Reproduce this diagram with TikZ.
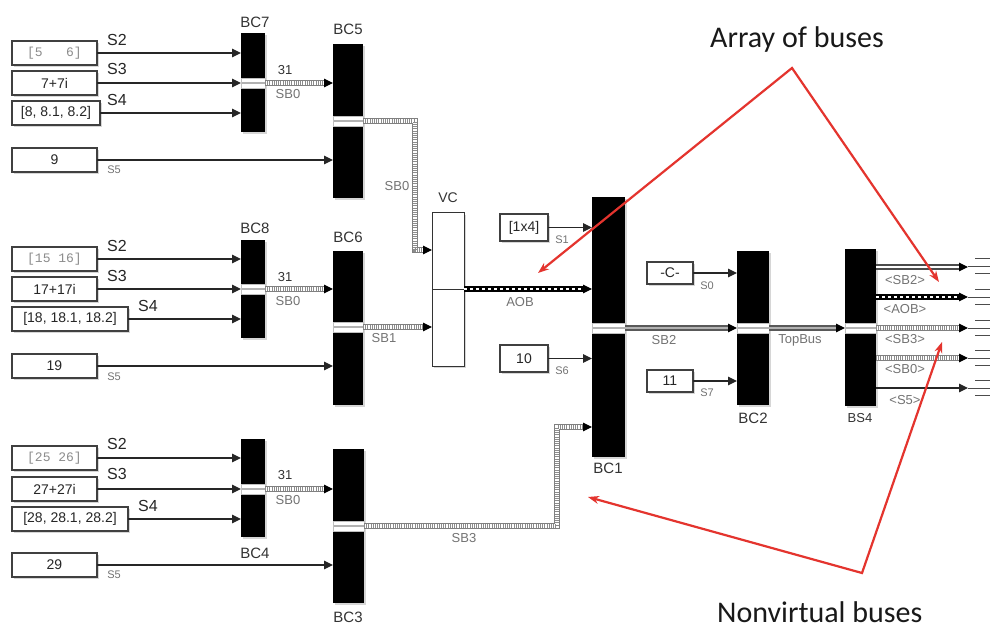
\documentclass[tikz,border=0pt]{standalone}
\usepackage{fontspec}
\setmainfont{Liberation Sans}
\newfontfamily\anfont{Carlito}
\newfontfamily\cmono{Liberation Mono}
\usetikzlibrary{arrows.meta,shadows,calc}
\definecolor{ann}{RGB}{228,52,46}
\tikzset{
  tipst/.style={draw=black, line width=1pt, -{Triangle[length=9pt,width=8.5pt]}},
  sig/.style={draw=black!85, line width=1.1pt, -{Triangle[length=9pt,width=8.5pt]}},
  shad/.style={drop shadow={shadow xshift=1.6pt, shadow yshift=-1.6pt, fill=gray!70, opacity=0.45}},
  blk/.style={fill=black, inner sep=0pt, outer sep=0pt, anchor=north west, shad},
  cst/.style={draw=black!75, line width=1.2pt, fill=white, inner sep=0pt, outer sep=0pt, anchor=north west, font=\fontsize{14}{14}\selectfont, text=black!85, shad},
  mcst/.style={cst, font=\cmono\fontsize{13}{13}\selectfont, text=black!45},
  lbl/.style={font=\fontsize{16}{16}\selectfont, text=black!85, inner sep=0pt},
  blbl/.style={font=\fontsize{15}{15}\selectfont, text=black!80, inner sep=0pt},
  sml/.style={font=\fontsize{11}{11}\selectfont, text=black!55, inner sep=0pt},
  bl/.style={sml, font=\fontsize{13}{13}\selectfont},
  num/.style={font=\fontsize{13}{13}\selectfont, text=black!80, inner sep=0pt},
  vbus/.style={draw=white, line width=3.2pt, preaction={draw=black!50, line width=6pt}, postaction={draw=black!45, line width=3.2pt, dash pattern=on 0.9pt off 1.3pt}},
  aobbus/.style={draw=white, line width=2.8pt, dash pattern=on 3pt off 3pt, preaction={draw=black, line width=6pt}},
  nbus/.style={draw=gray!60, line width=2pt, preaction={draw=black!65, line width=6pt}},
  nbusw/.style={draw=white, line width=1.2pt, preaction={draw=black!70, line width=5.5pt}},
  term/.style={draw=black!70, line width=1pt},
  annline/.style={draw=ann, line width=2.2pt, line join=miter},
  antext/.style={font=\anfont\fontsize{30}{30}\selectfont, text=black!90, inner sep=0pt},
}
\newcommand{\busbar}[2]{%
  \fill[white] ($(#1.west |- #2)+(0,-5)$) rectangle ($(#1.east |- #2)+(0,5)$);
  \draw[gray!60, line width=2pt] (#1.west |- #2) -- (#1.east |- #2);
  \draw[gray!50, line width=0.5pt] ($(#1.west |- #2)+(0,-5)$) rectangle ($(#1.east |- #2)+(0,5)$);}
\begin{document}
\begin{tikzpicture}[x=1pt,y=-1pt]
\useasboundingbox[fill=white] (0,0) rectangle (990,628);

% ---------- blocks ----------
\node[blk, minimum width=24pt, minimum height=99pt] (bc7) at (241,33) {};
\node[blk, minimum width=30pt, minimum height=154pt] (bc5) at (333,44) {};
\node[blk, minimum width=24pt, minimum height=98pt] (bc8) at (241,240) {};
\node[blk, minimum width=30pt, minimum height=154pt] (bc6) at (333,251) {};
\node[blk, minimum width=24pt, minimum height=98pt] (bc4) at (241,439) {};
\node[blk, minimum width=31pt, minimum height=154pt] (bc3) at (333,449) {};
\node[draw=black!80, line width=1pt, fill=white, inner sep=0pt, outer sep=0pt, anchor=north west, minimum width=32pt, minimum height=153pt, shad] (vc) at (432,213) {};
\node[blk, minimum width=33pt, minimum height=260pt] (bc1) at (592,197) {};
\node[blk, minimum width=32pt, minimum height=154pt] (bc2) at (737,251) {};
\node[blk, minimum width=31pt, minimum height=157pt] (bs4) at (845,249) {};

% block labels
\node[blbl] (lbc7) at (255,22) {BC7};
\node[blbl] (lbc5) at (348,29) {BC5};
\node[blbl] (lbc8) at (255,228) {BC8};
\node[blbl] (lbc6) at (348,237) {BC6};
\node[blbl] (lbc4) at (255,553) {BC4};
\node[blbl] (lbc3) at (348,617) {BC3};
\node[num, font=\fontsize{14}{14}\selectfont] (lvc) at (448,198) {VC};
\node[blbl] (lbc1) at (608,468) {BC1};
\node[blbl] (lbc2) at (753,418) {BC2};
\node[num, font=\fontsize{13}{13}\selectfont] (lbs4) at (860,418) {BS4};

% ---------- constants ----------
\node[mcst, minimum width=85pt, minimum height=24pt] (a1) at (12,41) {[5\ \ \ 6]};
\node[cst, minimum width=85pt, minimum height=24pt] (a2) at (12,71) {7+7i};
\node[cst, minimum width=88pt, minimum height=24pt] (a3) at (12,101) {[8, 8.1, 8.2]};
\node[cst, minimum width=85pt, minimum height=24pt] (a4) at (12,148) {9};

\node[mcst, minimum width=85pt, minimum height=24pt] (b1) at (12,247) {[15 16]};
\node[cst, minimum width=85pt, minimum height=24pt] (b2) at (12,277) {17+17i};
\node[cst, minimum width=116pt, minimum height=24pt] (b3) at (12,307) {[18, 18.1, 18.2]};
\node[cst, minimum width=85pt, minimum height=24pt] (b4) at (12,354) {19};

\node[mcst, minimum width=85pt, minimum height=24pt] (c1) at (12,446) {[25 26]};
\node[cst, minimum width=85pt, minimum height=24pt] (c2) at (12,477) {27+27i};
\node[cst, minimum width=116pt, minimum height=24pt] (c3) at (12,507) {[28, 28.1, 28.2]};
\node[cst, minimum width=85pt, minimum height=24pt] (c4) at (12,553) {29};

\node[cst, minimum width=48pt, minimum height=27pt] (k14) at (500,214) {[1x4]};
\node[cst, minimum width=48pt, minimum height=27pt] (k10) at (500,345) {10};
\node[cst, minimum width=46pt, minimum height=22pt] (kc) at (647,262) {-C-};
\node[cst, minimum width=46pt, minimum height=22pt] (k11) at (647,370) {11};

% ---------- signal lines ----------
\draw[sig] (a1.east) -- (a1.east -| bc7.west);
\draw[sig] (a2.east) -- (a2.east -| bc7.west);
\draw[sig] (a3.east) -- (a3.east -| bc7.west);
\draw[sig] (a4.east) -- (a4.east -| bc5.west);
\draw[sig] (b1.east) -- (b1.east -| bc8.west);
\draw[sig] (b2.east) -- (b2.east -| bc8.west);
\draw[sig] (b3.east) -- (b3.east -| bc8.west);
\draw[sig] (b4.east) -- (b4.east -| bc6.west);
\draw[sig] (c1.east) -- (c1.east -| bc4.west);
\draw[sig] (c2.east) -- (c2.east -| bc4.west);
\draw[sig] (c3.east) -- (c3.east -| bc4.west);
\draw[sig] (c4.east) -- (c4.east -| bc3.west);
\draw[sig] (k14.east) -- (k14.east -| bc1.west);
\draw[sig] (k10.east) -- (k10.east -| bc1.west);
\draw[sig] (kc.east) -- (kc.east -| bc2.west);
\draw[sig] (k11.east) -- (k11.east -| bc2.west);

% signal labels
\node[lbl] (s2a) at (117,40) {S2};
\node[lbl] (s3a) at (117,69) {S3};
\node[lbl] (s4a) at (117,100) {S4};
\node[sml] (s5a) at (114,170) {S5};
\node[lbl] (s2b) at (117,246) {S2};
\node[lbl] (s3b) at (117,276) {S3};
\node[lbl] (s4b) at (148,306) {S4};
\node[sml] (s5b) at (114,377) {S5};
\node[lbl] (s2c) at (117,444) {S2};
\node[lbl] (s3c) at (117,474) {S3};
\node[lbl] (s4c) at (148,506) {S4};
\node[sml] (s5c) at (114,575) {S5};
\node[sml] (s1) at (562,240) {S1};
\node[sml] (s6) at (562,371) {S6};
\node[sml] (s0) at (707,286) {S0};
\node[sml] (s7) at (707,393) {S7};

% ---------- port coordinates ----------
\coordinate (bc5out) at (bc5.east |- 0,121);
\coordinate (vcin1) at (vc.west |- 0,250);
\coordinate (bc6out) at (bc6.east |- 0,327);
\coordinate (vcout) at (vc.east |- 0,289);
\coordinate (bc3out) at (bc3.east |- 0,526);
\coordinate (bc1in) at (bc1.west |- 0,427);
\coordinate (bc1out) at (bc1.east |- 0,328);

% bus bars on blocks
\busbar{bc7}{a2}
\busbar{bc8}{b2}
\busbar{bc4}{c2}
\busbar{bc5}{bc5out}
\busbar{bc6}{bc6out}
\busbar{bc3}{bc3out}
\busbar{bc1}{bc1out}
\busbar{bc2}{bc1out}
\busbar{bs4}{bc1out}

% VC divider
\draw[black!80, line width=0.8pt] (vc.west |- vcout) -- (vcout);

% ---------- buses ----------
\draw[vbus] (a2 -| bc7.east) -- ([xshift=-7pt]a2 -| bc5.west);
\draw[tipst] ([xshift=-9pt]a2 -| bc5.west) -- (a2 -| bc5.west);
\draw[vbus] (b2 -| bc8.east) -- ([xshift=-7pt]b2 -| bc6.west);
\draw[tipst] ([xshift=-9pt]b2 -| bc6.west) -- (b2 -| bc6.west);
\draw[vbus] (c2 -| bc4.east) -- ([xshift=-7pt]c2 -| bc3.west);
\draw[tipst] ([xshift=-9pt]c2 -| bc3.west) -- (c2 -| bc3.west);
\draw[vbus] (bc5out) -- (415,121) -- (415,250) -- ([xshift=-7pt]vcin1);
\draw[tipst] ([xshift=-9pt]vcin1) -- (vcin1);
\draw[vbus] (bc6out) -- ([xshift=-7pt]vc.west |- bc6out);
\draw[tipst] ([xshift=-9pt]vc.west |- bc6out) -- (vc.west |- bc6out);
\draw[aobbus] (vcout) -- ([xshift=-7pt]bc1.west |- vcout);
\draw[tipst] ([xshift=-9pt]bc1.west |- vcout) -- (bc1.west |- vcout);
\draw[vbus] (bc3out) -- (557,526) -- (557,427) -- ([xshift=-7pt]bc1in);
\draw[tipst] ([xshift=-9pt]bc1in) -- (bc1in);
\draw[nbus] (bc1out) -- ([xshift=-7pt]bc2.west |- bc1out);
\draw[tipst] ([xshift=-9pt]bc2.west |- bc1out) -- (bc2.west |- bc1out);
\draw[nbus] (bc2.east |- bc1out) -- ([xshift=-7pt]bs4.west |- bc1out);
\draw[tipst] ([xshift=-9pt]bs4.west |- bc1out) -- (bs4.west |- bc1out);

% bus labels
\node[num] (l31a) at (285,70) {31};
\node[bl] (lsb0a) at (288,94) {SB0};
\node[num] (l31b) at (285,277) {31};
\node[bl] (lsb0b) at (288,301) {SB0};
\node[num] (l31c) at (285,475) {31};
\node[bl] (lsb0c) at (288,500) {SB0};
\node[bl] (lsb0d) at (397,186) {SB0};
\node[bl] (lsb1) at (384,338) {SB1};
\node[bl] (laob) at (520,302) {AOB};
\node[bl] (lsb3) at (464,538) {SB3};
\node[bl] (lsb2) at (664,340) {SB2};
\node[bl] (ltop) at (800,340) {TopBus};

% ---------- BS4 outputs ----------
\coordinate (o1) at (bs4.east |- 0,267);
\coordinate (o2) at (bs4.east |- 0,297);
\coordinate (o3) at (bs4.east |- 0,328);
\coordinate (o4) at (bs4.east |- 0,358);
\coordinate (o5) at (bs4.east |- 0,388);
\coordinate (t1) at (968,267);
\coordinate (t2) at (968,297);
\coordinate (t3) at (968,328);
\coordinate (t4) at (968,358);
\coordinate (t5) at (968,388);
\draw[nbusw] (o1) -- ([xshift=-7pt]t1);
\draw[tipst] ([xshift=-9pt]t1) -- (t1);
\draw[aobbus] (o2) -- ([xshift=-7pt]t2);
\draw[tipst] ([xshift=-9pt]t2) -- (t2);
\draw[vbus] (o3) -- ([xshift=-7pt]t3);
\draw[tipst] ([xshift=-9pt]t3) -- (t3);
\draw[vbus] (o4) -- ([xshift=-7pt]t4);
\draw[tipst] ([xshift=-9pt]t4) -- (t4);
\draw[sig] (o5) -- (t5);
\foreach \t in {t1,t2,t3,t4,t5}{
  \draw[term] (\t) -- ++(22,0);
  \draw[term] ($(\t)+(7,-8)$) -- ++(15,0);
  \draw[term] ($(\t)+(7,7)$) -- ++(15,0);
}
\node[bl] (lo1) at (905,280) {<SB2>};
\node[bl] (lo2) at (905,309) {<AOB>};
\node[bl] (lo3) at (905,339) {<SB3>};
\node[bl] (lo4) at (905,369) {<SB0>};
\node[bl] (lo5) at (905,400) {<S5>};

% ---------- annotations ----------
\node[antext, anchor=base west] (arrtxt) at (710,48) {Array of buses};
\node[antext, anchor=base west] (nvtxt) at (717,622) {Nonvirtual buses};
\coordinate (apex1) at (792,68);
\coordinate (ta1) at (538,273);
\coordinate (tb1) at (939,282);
\coordinate (apex2) at (862,573);
\coordinate (ta2) at (588,497);
\coordinate (tb2) at (942,342);
\draw[annline, {Stealth[length=11pt,width=8pt]}-{Stealth[length=11pt,width=8pt]}] (ta1) -- (apex1) -- (tb1);
\draw[annline, {Stealth[length=11pt,width=8pt]}-{Stealth[length=11pt,width=8pt]}] (ta2) -- (apex2) -- (tb2);
\end{tikzpicture}
\end{document}
